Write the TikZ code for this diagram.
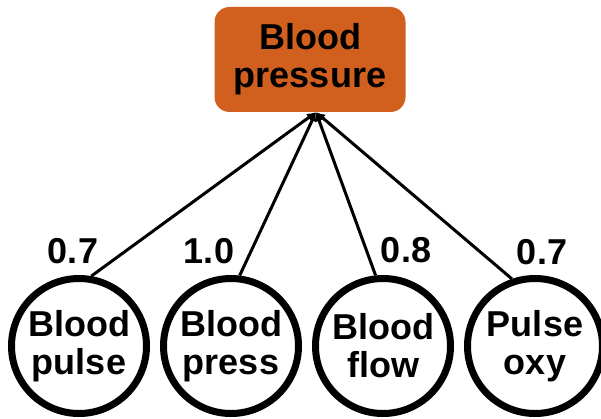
\documentclass[tikz,border=0pt]{standalone}
\usepackage{fontspec}
\setmainfont{Liberation Sans}
\usetikzlibrary{arrows.meta}
\definecolor{bpOrange}{RGB}{209,95,30}
\begin{document}
\begin{tikzpicture}[x=1pt,y=1pt,
  lbl/.style={font=\fontsize{36}{38}\selectfont\bfseries, align=center, inner sep=0pt},
  topbox/.style={lbl, rectangle, rounded corners=15pt, fill=bpOrange,
    minimum width=191pt, minimum height=105pt},
  sensor/.style={lbl, circle, draw=black, line width=7pt, fill=white,
    minimum size=135pt},
  weight/.style={font=\fontsize{36}{38}\selectfont\bfseries, inner sep=0pt},
  link/.style={line width=3pt, -{Latex[length=9pt,width=9pt]}}
]
\useasboundingbox (0,0) rectangle (601,418);

% parent node
\node[topbox] (bp) at (310,358.5) {Blood\\pressure};
\coordinate (hub) at ([xshift=6pt]bp.south);

% child nodes
\node[sensor] (c1) at (79,72)  {Blood\\pulse};
\node[sensor] (c2) at (231,72) {Blood\\press};
\node[sensor] (c3) at (383,72) {Blood\\flow};
\node[sensor] (c4) at (535,72) {Pulse\\oxy};

% weighted links
\draw[link] (c1.80)  -- (hub);
\draw[link] (c2.83)  -- (hub);
\draw[link] (c3.96)  -- (hub);
\draw[link] (c4.109) -- (hub);

% weights
\node[weight] (w1) at (73,167)  {0.7};
\node[weight] (w2) at (209,167) {1.0};
\node[weight] (w3) at (406,168) {0.8};
\node[weight] (w4) at (542,166) {0.7};
\end{tikzpicture}
\end{document}
